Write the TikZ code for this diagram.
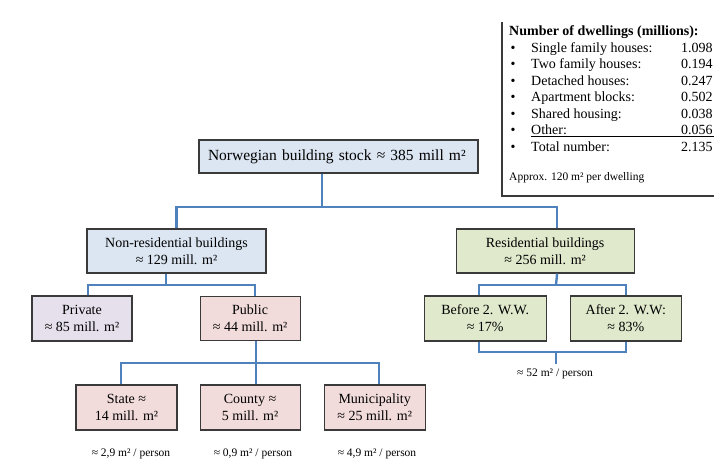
\documentclass[tikz,border=0pt]{standalone}
\usepackage{fontspec}
\setmainfont{Liberation Serif}
\usetikzlibrary{positioning}
\definecolor{linkblue}{HTML}{4F81BD}
\definecolor{boxblue}{HTML}{DCE6F2}
\definecolor{boxlilac}{HTML}{E6E0EC}
\definecolor{boxpink}{HTML}{F2DCDB}
\definecolor{boxgreen}{HTML}{E0E9CC}
\definecolor{frameline}{HTML}{3A3A3A}

\begin{document}
\begin{tikzpicture}[
  x=1pt, y=-1pt,
  font=\fontsize{14}{17}\selectfont,
  block/.style={draw=frameline, line width=1.1pt, align=center,
                inner sep=2pt, minimum height=44pt},
  stockblock/.style={block, fill=boxblue, minimum width=279pt, minimum height=33pt,
                     align=left, text width=261pt, inner xsep=9pt,
                     font=\fontsize{15.5}{18}\selectfont},
  nonresblock/.style={block, fill=boxblue, minimum width=179pt},
  resblock/.style={block, fill=boxgreen, minimum width=178pt},
  privblock/.style={block, fill=boxlilac, minimum width=100pt, minimum height=45pt},
  pubblock/.style={block, fill=boxpink, minimum width=100pt},
  ageblock/.style={block, fill=boxgreen, minimum height=45pt},
  ownblock/.style={block, fill=boxpink, minimum width=101pt, minimum height=45pt},
  link/.style={draw=linkblue, line width=2.4pt},
  note/.style={font=\fontsize{11.5}{13}\selectfont, inner sep=0pt},
  infotext/.style={inner sep=0pt, anchor=base west},
  infoframe/.style={draw=frameline, line width=1.1pt}
]
\useasboundingbox (0,0) rectangle (714,467);

% ---------------- Dwellings table ----------------
\draw[infoframe] (502,22) -- (502,196) -- (720,196);
\node[infotext, font=\fontsize{14}{17}\selectfont\bfseries] (dw-title) at (509,35)
  {Number of dwellings (millions):};
\foreach \kind/\val [count=\i] in {Single family houses:/1.098,
    Two family houses:/0.194, Detached houses:/0.247, Apartment blocks:/0.502,
    Shared housing:/0.038, Other:/0.056, Total number:/2.135}{
  \node[inner sep=0pt, anchor=base] (dw-dot-\i) at (513,{35.5+16.5*\i}) {•};
  \node[infotext] (dw-kind-\i) at (531,{35.5+16.5*\i}) {\kind};
  \node[infotext] (dw-val-\i)  at (681,{35.5+16.5*\i}) {\val};
}
\draw[line width=0.8pt] ([yshift=-2.2pt]dw-kind-6.base west) -- ([yshift=-2.2pt,xshift=3pt]dw-val-6.base east);
\node[infotext, font=\fontsize{11.5}{13}\selectfont] (dw-note) at (509,180)
  {Approx. 120 m² per dwelling};

% ---------------- Building stock ----------------
\node[stockblock] (stock) at (338.5,156.5) {Norwegian building stock ≈ 385 mill m²};

\node[nonresblock] (nonres) at (176.5,251) {Non-residential buildings\\≈ 129 mill. m²};
\node[resblock, right=189pt of nonres] (res) {Residential buildings\\≈ 256 mill. m²};

% ---------------- Second level ----------------
\node[privblock] (priv) at (82,318.5) {Private\\≈ 85 mill. m²};
\node[pubblock, right=67pt of priv] (pub) {Public\\≈ 44 mill. m²};
\node[ageblock, minimum width=122pt, right=123pt of pub] (before) {Before 2. W.W.\\≈ 17\%};
\node[ageblock, minimum width=111pt, right=23pt of before] (after) {After 2. W.W:\\≈ 83\%};

% ---------------- Public owners ----------------
\node[ownblock] (state) at (126.5,407.5) {State ≈\\14 mill. m²};
\node[ownblock, minimum width=100pt, right=22pt of state] (county) {County ≈\\5 mill. m²};
\node[ownblock, right=23pt of county] (muni) {Municipality\\≈ 25 mill. m²};

% ---------------- Per person ----------------
\node[note] (pp-state)  at (131,454) {≈ 2,9 m² / person};
\node[note] (pp-county) at (253,454) {≈ 0,9 m² / person};
\node[note] (pp-muni)   at (377,454) {≈ 4,9 m² / person};
\node[note, inner sep=5pt] (pp-res) at (555,374) {≈ 52 m² / person};

% ---------------- Connectors ----------------
\coordinate (stock-fork)  at (322,207);
\coordinate (nonres-fork) at (166,285);
\coordinate (res-fork)    at (556,285);
\coordinate (res-join)    at (556,352);
\coordinate (pub-fork)    at (255,363);

\draw[link] ([xshift=-16.5pt]stock.south) -- (stock-fork);
\draw[link] (nonres.north) |- (stock-fork) -| ([xshift=12pt]res.north);

\draw[link] ([xshift=-10.5pt]nonres.south) -- (nonres-fork);
\draw[link] ([xshift=6pt]priv.north) |- (nonres-fork) -| ([xshift=5pt]pub.north);

\draw[link] ([xshift=12pt]res.south) -- (res-fork);
\draw[link] ([xshift=-6pt]before.north) |- (res-fork) -| (after.north);
\draw[link] ([xshift=-6pt]before.south) |- (res-join) -| (after.south);
\draw[link] (res-join) -- (pp-res.north -| res-join);

\draw[link] ([xshift=6pt]pub.south) -- ([xshift=6pt]county.north);
\draw[link] ([xshift=-5.5pt]state.north) |- (pub-fork) -| ([xshift=4.5pt]muni.north);

\end{tikzpicture}
\end{document}
